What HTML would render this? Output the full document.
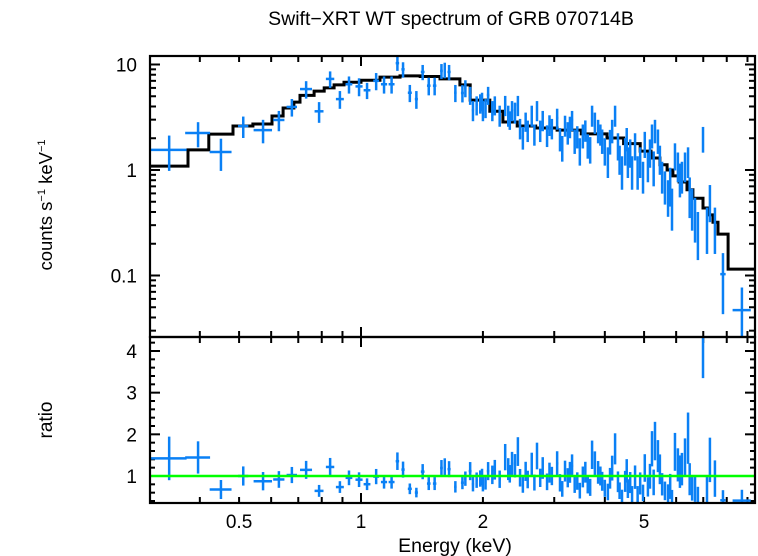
<!DOCTYPE html>
<html><head><meta charset="utf-8"><style>
html,body{margin:0;padding:0;background:#fff;}
svg{display:block;font-family:"Liberation Sans",sans-serif;}
</style></head><body>
<svg id="chart" width="758" height="556" viewBox="0 0 758 556" xmlns="http://www.w3.org/2000/svg">
<defs>
<clipPath id="clipTop"><rect x="150" y="56" width="605" height="281"/></clipPath>
<clipPath id="clipBot"><rect x="150" y="337" width="605" height="166"/></clipPath>
</defs>
<text x="451" y="25" font-size="19.5" text-anchor="middle">Swift−XRT WT spectrum of GRB 070714B</text>
<text transform="translate(52,205) rotate(-90)" font-size="18.5" text-anchor="middle">counts s<tspan font-size="11" dy="-7">−1</tspan><tspan dy="7"> keV</tspan><tspan font-size="11" dy="-7">−1</tspan></text>
<text transform="translate(52,420) rotate(-90)" font-size="19" text-anchor="middle">ratio</text>
<text x="455" y="552" font-size="19.5" text-anchor="middle">Energy (keV)</text>
<g id="ticks"></g>
<g id="model" clip-path="url(#clipTop)"></g>
<g id="dataTop" clip-path="url(#clipTop)"></g>
<g id="dataBot" clip-path="url(#clipBot)"></g>
<g id="frames"></g>
</svg>
<script>
// ---- data ----
const energies = [0.336,0.396,0.451,0.512,0.573,0.627,0.675,0.732,0.788,0.839,0.887,0.934,0.989,1.035,1.09,1.14,1.19,1.23,1.27,1.32,1.37,1.42,1.47,1.52,1.58,1.61,1.65,1.71,
1.78,1.81,1.86,1.89,1.93,1.97,2.0,2.06,2.11,2.14,2.20,2.27,2.31,2.36,2.40,2.44,2.51,2.58,2.64,2.72,2.77,2.81,2.88,2.96,3.05,3.14,3.19,3.24,3.32,3.37,3.47,3.53,3.63,3.72,3.78,3.85,3.94,4.00,4.07,4.17,4.24,4.31,4.41,4.49,4.56,4.67,4.75,4.89,4.97,5.11,5.23,5.32,5.41,5.54,5.63,5.73,5.86,5.96,6.06,6.20,6.31,6.42,6.57,6.68,6.79,6.99,7.15,7.27,7.48,7.83,8.72,
2.55,2.68,2.92,3.1,3.28,3.42,3.58,3.68,3.9,4.12,4.35,4.53,4.62,4.82,5.02,5.17,5.28,5.47,5.8,6.13,6.48,2.33,2.47,1.99,2.03];
const halfWidths = [0.035,0.028,0.028,0.015,0.03,0.02,0.02,0.025,0.02,0.02,0.02,0.018,0.02,0.02,0.018,0.02,0.02,0.012,0.012,0.015,0.012,0.015,0.015,0.015,0.012,0.01,0.015,0.012,
0.015,0.012,0.015,0.012,0.012,0.012,0.012,0.015,0.012,0.012,0.015,0.015,0.012,0.015,0.012,0.015,0.015,0.015,0.015,0.015,0.012,0.012,0.015,0.015,0.02,0.015,0.015,0.015,0.02,0.015,0.02,0.02,0.02,0.02,0.02,0.02,0.02,0.02,0.02,0.02,0.02,0.02,0.02,0.02,0.02,0.02,0.02,0.025,0.025,0.025,0.025,0.025,0.025,0.025,0.025,0.025,0.03,0.03,0.03,0.03,0.03,0.03,0.03,0.03,0.03,0.03,0.03,0.03,0.04,0.12,0.45,
0.012,0.012,0.012,0.015,0.015,0.015,0.015,0.015,0.02,0.02,0.02,0.02,0.02,0.02,0.02,0.025,0.025,0.025,0.025,0.03,0.03,0.012,0.012,0.012,0.012];
const fluxes = [1.55,2.24,1.48,2.61,2.39,2.98,3.96,5.85,3.6,7.3,4.7,6.5,6.2,5.7,7.0,6.5,6.5,10.3,9.0,5.4,4.7,8.5,6.3,6.3,8.7,8.9,8.5,5.4,
5.37,5.99,5.14,3.70,4.14,4.32,3.70,5.14,3.70,4.14,3.32,4.14,3.32,3.70,3.55,4.14,2.06,2.39,3.32,3.70,2.39,2.98,2.15,2.50,3.11,1.65,2.67,2.29,2.98,1.92,1.55,2.15,1.73,3.32,2.85,2.39,1.92,1.55,1.24,2.39,3.32,1.73,1.0,1.55,1.24,1.0,1.73,1.24,0.897,1.115,2.15,2.39,1.92,0.897,0.72,0.58,0.466,1.39,1.115,0.897,1.115,1.24,0.466,0.375,0.27,2.01,0.30,0.52,0.30,0.103,0.047,
2.9,2.2,2.7,2.0,2.6,2.1,2.4,1.6,2.2,1.9,1.3,2.0,1.5,1.0,1.8,1.5,1.1,1.3,0.75,0.85,0.6,3.0,2.5,4.5,3.9];
const errors = [0.57,0.6,0.5,0.6,0.6,0.65,0.75,1.1,0.8,1.3,0.9,1.2,1.2,1.0,1.3,1.2,1.2,1.6,1.5,1.0,0.9,1.4,1.2,1.2,1.4,1.5,1.4,1.0,
1.0,1.1,1.0,0.8,0.85,0.9,0.8,1.0,0.8,0.85,0.75,0.9,0.75,0.8,0.8,0.9,0.5,0.55,0.75,0.8,0.55,0.65,0.5,0.55,0.7,0.45,0.6,0.55,0.65,0.5,0.45,0.55,0.45,0.75,0.65,0.6,0.5,0.45,0.4,0.6,0.75,0.5,0.35,0.45,0.4,0.35,0.5,0.4,0.3,0.35,0.55,0.6,0.5,0.3,0.25,0.22,0.2,0.4,0.35,0.3,0.35,0.4,0.2,0.17,0.13,0.55,0.14,0.2,0.14,0.06,0.03,
0.6,0.5,0.6,0.5,0.6,0.5,0.55,0.45,0.5,0.5,0.4,0.5,0.45,0.35,0.5,0.45,0.4,0.4,0.3,0.3,0.25,0.6,0.55,0.9,0.8];
const modelEdges = [0.301,0.374,0.421,0.483,0.541,0.603,0.642,0.683,0.707,0.766,0.811,0.858,0.908,1.0,1.114,1.248,1.40,1.567,1.755,1.86,2.08,2.24,2.43,2.7,3.05,3.5,4.05,4.45,4.89,5.2,5.47,5.7,5.89,6.1,6.38,6.60,6.99,7.19,7.40,7.61,8.06,9.4];
const modelValues = [1.09,1.55,2.19,2.61,2.73,3.25,3.87,4.4,5.1,5.6,6.0,6.4,6.8,7.1,7.6,7.8,7.7,7.3,6.4,4.6,3.6,2.85,2.61,2.5,2.39,2.2,2.01,1.78,1.51,1.3,1.12,1.0,0.88,0.77,0.65,0.54,0.436,0.375,0.32,0.247,0.115];
const xTickLabels = ["0.5","1","2","5"];
const xTickValues = [0.5,1,2,5];
const yTopLabels = ["10","1","0.1"];
const yTopValues = [10,1,0.1];
const yBotLabels = ["1","2","3","4"];
const yBotValues = [1,2,3,4];

// ---- axes ----
const X0=150,X1=755,YT0=56,YM=337,YB1=503;
const xS = e => 361 + 405*Math.log10(e);
const yTop = f => 170 - 105.5*Math.log10(f);
const yBot = r => 476 - (r-1)*41.67;
const NS="http://www.w3.org/2000/svg";
function mk(tag, attrs, parent){const el=document.createElementNS(NS,tag);for(const k in attrs)el.setAttribute(k,attrs[k]);parent.appendChild(el);return el;}
function modelAt(e){for(let i=0;i<modelValues.length;i++){if(e>=modelEdges[i]&&e<modelEdges[i+1])return modelValues[i];}return modelValues[modelValues.length-1];}

const ticks=document.getElementById('ticks');
const frames=document.getElementById('frames');
const BLUE="#0a80f5";

let f1=mk('rect',{x:X0,y:YT0,width:X1-X0,height:YM-YT0,fill:'none',stroke:'#000','stroke-width':2.2},frames);


let f2=mk('rect',{x:X0,y:YM,width:X1-X0,height:YB1-YM,fill:'none',stroke:'#000','stroke-width':2.2},frames);



const xMinor=[0.4,0.5,0.6,0.7,0.8,0.9,1,2,3,4,5,6,7,8,9];
xMinor.forEach(v=>{
  const x=xS(v), L=(v===1)?10:6;
  [[YT0,1],[YM,1],[YM,-1],[YB1,-1]].forEach(([y,d])=>{
    const t=mk('line',{x1:x,x2:x,y1:y,y2:y+d*L,stroke:'#000','stroke-width':2},ticks);
    
    
  });
});
xTickValues.forEach((v,i)=>{
  const t=mk('text',{x:xS(v),y:528,'font-size':19,'text-anchor':'middle'},ticks);
  t.textContent=xTickLabels[i];
  
  
});
[0.01,0.1,1].forEach(dec=>{
  for(let m=1;m<=9;m++){
    const v=dec*m; const y=yTop(v);
    if(y<YT0||y>YM)continue;
    const L=(m===1)?10:6;
    [[X0,1],[X1,-1]].forEach(([x,d])=>{
      const t=mk('line',{x1:x,x2:x+d*L,y1:y,y2:y,stroke:'#000','stroke-width':2},ticks);
      
      
    });
  }
});
{const y=yTop(10);[[X0,1],[X1,-1]].forEach(([x,d])=>{const t=mk('line',{x1:x,x2:x+d*10,y1:y,y2:y,stroke:'#000','stroke-width':2},ticks);});}
yTopValues.forEach((v,i)=>{
  const t=mk('text',{x:137,y:yTop(v)+7,'font-size':19,'text-anchor':'end'},ticks);
  t.textContent=yTopLabels[i];
  
  
});
for(let k=2;k<=21;k++){
  const v=k*0.2; const y=yBot(v);
  if(y<YM||y>YB1)continue;
  const L=(k%5===0)?10:5;
  [[X0,1],[X1,-1]].forEach(([x,d])=>{
    const t=mk('line',{x1:x,x2:x+d*L,y1:y,y2:y,stroke:'#000','stroke-width':2},ticks);
    
    
  });
}
yBotValues.forEach((v,i)=>{
  const t=mk('text',{x:137,y:yBot(v)+7,'font-size':19,'text-anchor':'end'},ticks);
  t.textContent=yBotLabels[i];
  
  
});

const mg=document.getElementById('model');
let d='';
modelValues.forEach((v,i)=>{
  const xa=xS(modelEdges[i]), xb=xS(modelEdges[i+1]), y=yTop(v);
  d += (i===0?'M':'L')+xa.toFixed(1)+','+y.toFixed(1)+'L'+xb.toFixed(1)+','+y.toFixed(1);
});
const mp=mk('path',{d:d,fill:'none',stroke:'#000','stroke-width':3},mg);



const dt=document.getElementById('dataTop'), db=document.getElementById('dataBot');
energies.forEach((e,i)=>{
  const xa=xS(e-halfWidths[i]), xb=xS(e+halfWidths[i]), xc=xS(e);
  const f=fluxes[i], er=errors[i];
  const g=mk('g',{stroke:BLUE,'stroke-width':2.5},dt);
  
  
  mk('line',{x1:xa,x2:xb,y1:yTop(f),y2:yTop(f)},g);
  mk('line',{x1:xc,x2:xc,y1:yTop(f+er),y2:yTop(Math.max(f-er,0.001))},g);
  const m=modelAt(e), r=f/m, re=er/m;
  const g2=mk('g',{stroke:BLUE,'stroke-width':2.5},db);
  
  
  mk('line',{x1:xa,x2:xb,y1:yBot(r),y2:yBot(r)},g2);
  mk('line',{x1:xc,x2:xc,y1:yBot(r+re),y2:yBot(r-re)},g2);
});
const gl=mk('line',{x1:X0,x2:X1,y1:yBot(1),y2:yBot(1),stroke:'#00ff00','stroke-width':2.5},db);


</script>
</body></html>
